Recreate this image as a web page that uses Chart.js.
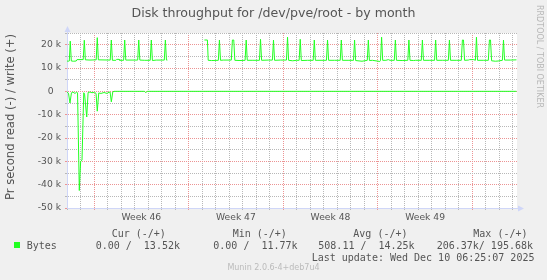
<!DOCTYPE html>
<html lang="en">
<head>
<meta charset="utf-8"/>
<title>Disk throughput for /dev/pve/root - by month</title>
<script src="https://cdn.jsdelivr.net/npm/chart.js"></script>
<style>
  html, body { margin: 0; padding: 0; background: #f0f0f0; }
  #wrap { position: relative; width: 547px; height: 280px; overflow: hidden; font-family: 'DejaVu Sans', sans-serif; color: #555; }
  #wrap canvas { position: absolute; left: 0; top: 0; }
  .t { position: absolute; white-space: pre; }
  .mono { font-family: 'DejaVu Sans Mono', monospace; font-size: 10px; line-height: 10px; }
</style>
</head>
<body>
<div id="wrap">
  <canvas id="chart" width="547" height="280"></canvas>
  <div class="t" style="left:0;width:547px;top:6.5px;text-align:center;font-size:12.6px;line-height:12.6px;">Disk throughput for /dev/pve/root - by month</div>
  <div class="t" style="left:-90px;top:110px;width:200px;text-align:center;font-size:11.6px;line-height:14px;transform:rotate(-90deg);">Pr second read (-) / write (+)</div>
  <div class="t" style="left:542.5px;top:5px;font-size:8px;line-height:8px;color:#b8b8b8;transform-origin:0 0;transform:rotate(90deg);">RRDTOOL / TOBI OETIKER</div>

  <div class="t mono" style="left:111.7px;top:228.8px;">Cur (-/+)</div>
  <div class="t mono" style="left:232.7px;top:228.8px;">Min (-/+)</div>
  <div class="t mono" style="left:353.3px;top:228.8px;">Avg (-/+)</div>
  <div class="t mono" style="left:473.3px;top:228.8px;">Max (-/+)</div>

  <div style="position:absolute;left:14px;top:242px;width:6px;height:6px;background:#22ff22;"></div>
  <div class="t mono" style="left:26.7px;top:241.1px;">Bytes</div>
  <div class="t mono" style="left:95.7px;top:241.1px;">0.00 /  13.52k</div>
  <div class="t mono" style="left:213.3px;top:241.1px;">0.00 /  11.77k</div>
  <div class="t mono" style="left:318.3px;top:241.1px;">508.11 /  14.25k</div>
  <div class="t mono" style="left:436.7px;top:241.1px;">206.37k/ 195.68k</div>

  <div class="t mono" style="left:311.7px;top:252.8px;">Last update: Wed Dec 10 06:25:07 2025</div>
  <div class="t" style="left:0;width:547px;top:264px;text-align:center;font-size:8px;line-height:8px;color:#bbbbbb;">Munin 2.0.6-4+deb7u4</div>
</div>

<script>
// time axis in days, day 0 = start of the week labelled "Week 46"
const xMin = -2.0;
const xMax = 31.3;
const weekStarts = [0, 7, 14, 21, 28];
const weekLabels = ['Week 46', 'Week 47', 'Week 48', 'Week 49'];

const yTickValues = [20000, 10000, 0, -10000, -20000, -30000, -40000, -50000];
const yTickLabels = ['20 k', '10 k', '0\u2002 ', '-10 k', '-20 k', '-30 k', '-40 k', '-50 k'];

// write (+), bytes per second
const writeDays = [
  -2.00, -1.90, -1.83, -1.76, -1.68, -1.50, -1.32, -1.26, -0.80, -0.72, -0.64, -0.30,
  0.16, 0.24, 0.32, 1.20, 1.28, 1.36, 1.62, 1.68, 1.85, 1.90, 2.19, 2.27, 2.35,
  3.23, 3.31, 3.39, 3.75, 4.16, 4.24, 4.32, 4.60, 5.20, 5.28, 5.36, 5.43,
  5.50, 8.10,
  8.17, 8.39, 8.45, 8.70, 9.20, 9.28, 9.36, 9.60, 10.16, 10.24, 10.34, 10.42, 10.80,
  11.18, 11.26, 11.34, 11.70, 12.24, 12.32, 12.40, 12.90, 13.20, 13.28, 13.36, 13.80,
  14.24, 14.32, 14.40, 14.70, 15.00, 15.18, 15.26, 15.34, 15.80, 16.22, 16.30, 16.38,
  16.80, 17.20, 17.28, 17.36, 17.80, 18.22, 18.30, 18.38, 18.80, 19.20, 19.28, 19.36,
  19.83, 20.22, 20.30, 20.38, 20.60, 21.15, 21.20, 21.28, 21.36, 21.60, 21.78, 21.90,
  22.22, 22.30, 22.38, 22.80, 23.22, 23.30, 23.38, 23.65, 23.80, 24.22, 24.30, 24.38,
  24.80, 25.20, 25.28, 25.36, 25.80, 26.22, 26.30, 26.38, 26.80, 27.18, 27.26, 27.34,
  27.42, 27.70, 27.80, 28.10, 28.22, 28.30, 28.38, 28.80, 29.18, 29.26, 29.34, 29.42,
  29.70, 29.90, 30.22, 30.30, 30.38, 30.80, 31.26
];
const writeBytes = [
  13000, 12900, 13000, 21500, 13000, 12900, 13000, 13600, 13600, 21900, 13500, 13400,
  13500, 23000, 13500, 13400, 22000, 13300, 13300, 13700, 13700, 13300, 13300, 22000, 13400,
  13400, 22000, 13400, 13300, 13300, 22000, 13200, 13400, 13400, 22000, 13400, 13400,
  null, null,
  22000, 22000, 13300, 13200, 13300, 22000, 13300, 13400, 13400, 22000, 22000, 13300, 13200,
  13300, 22000, 13300, 13300, 13300, 22300, 13300, 13400, 13400, 22000, 13300, 13400,
  13400, 23200, 13300, 13100, 13300, 13300, 22300, 13200, 13300, 13300, 22000, 13300,
  13300, 13300, 22000, 13300, 13300, 13300, 22000, 13300, 13300, 13300, 22000, 13200,
  12900, 13300, 22000, 13200, 13300, 12800, 13200, 23200, 13300, 13300, 13600, 13300,
  13300, 22000, 13300, 13200, 13300, 22000, 13300, 13200, 13300, 13300, 22000, 13300,
  13300, 13300, 22000, 13300, 13300, 13300, 22000, 13300, 13300, 13300, 22000, 22000,
  13300, 13400, 13600, 13600, 13300, 23200, 13300, 13300, 13300, 22000, 22000, 13100,
  12900, 13000, 13300, 22000, 13400, 13400, 13500
];

// read (-), bytes per second, drawn negative
const readDays = [
  -2.00, -1.89, -1.78, -1.67, -1.56, -1.41, -1.30, -1.22, -1.09, -0.99, -0.89, -0.76,
  -0.70, -0.54, -0.44, -0.30, -0.15, 0.04, 0.15, 0.24, 0.35, 0.52, 0.74, 0.96, 1.11,
  1.19, 1.28, 1.39, 1.48, 3.74, 3.83, 3.93, 31.26
];
const readBytes = [
  -300, -800, -5000, -600, -300, -900, -400, -600, -42500, -30000, -29500, -600,
  -1200, -11000, -500, -300, -600, -400, -900, -8500, -700, -900, -500, -900, -400,
  -300, -4500, -200, 0, 0, -600, 0, 0
];

const lineColor = '#22ff22';
const axisColor = '#cfd6f8';
const minorGrid = '#b8b8b8';
const majorGrid = '#ec9494';

function toPoints(days, vals) {
  return days.map((d, i) => ({ x: d, y: vals[i] }));
}

function xGridColor(v) {
  if (!Number.isInteger(v)) return 'rgba(0,0,0,0)';
  return (((v % 7) + 7) % 7 === 0) ? majorGrid : minorGrid;
}

function yGridColor(v) {
  return v % 10000 === 0 ? majorGrid : minorGrid;
}

const chartAreaBg = {
  id: 'chartAreaBg',
  beforeDraw(chart) {
    const a = chart.chartArea, ctx = chart.ctx;
    ctx.save();
    ctx.fillStyle = '#ffffff';
    ctx.fillRect(a.left, a.top, a.right - a.left, a.bottom - a.top);
    ctx.restore();
  }
};

const axisArrows = {
  id: 'axisArrows',
  afterDraw(chart) {
    const a = chart.chartArea, ctx = chart.ctx;
    const x = Math.round(a.left) + 0.5, y = Math.round(a.bottom) + 0.5;
    ctx.save();
    ctx.strokeStyle = axisColor;
    ctx.fillStyle = axisColor;
    ctx.lineWidth = 1;
    ctx.beginPath();
    ctx.moveTo(x, a.top); ctx.lineTo(x, a.top - 3);
    ctx.moveTo(a.right, y); ctx.lineTo(a.right + 3, y);
    ctx.stroke();
    ctx.beginPath();
    ctx.moveTo(x - 3, a.top - 1); ctx.lineTo(x, a.top - 7); ctx.lineTo(x + 3, a.top - 1);
    ctx.closePath(); ctx.fill();
    ctx.beginPath();
    ctx.moveTo(a.right + 1, y - 3); ctx.lineTo(a.right + 7, y); ctx.lineTo(a.right + 1, y + 3);
    ctx.closePath(); ctx.fill();
    ctx.restore();
  }
};

new Chart(document.getElementById('chart'), {
  type: 'line',
  data: {
    datasets: [
      { label: 'write', data: toPoints(writeDays, writeBytes), borderColor: lineColor, borderWidth: 1, pointRadius: 0, spanGaps: false, tension: 0 },
      { label: 'read', data: toPoints(readDays, readBytes), borderColor: lineColor, borderWidth: 1, pointRadius: 0, spanGaps: false, tension: 0 }
    ]
  },
  options: {
    responsive: false,
    animation: false,
    devicePixelRatio: 1,
    layout: { padding: { top: 33, right: 30, bottom: 0, left: 0 } },
    plugins: { legend: { display: false }, tooltip: { enabled: false } },
    scales: {
      x: {
        type: 'linear',
        min: xMin,
        max: xMax,
        afterFit(scale) { scale.height = 72; },
        afterBuildTicks(scale) {
          const ticks = [];
          for (let d = Math.ceil(xMin); d <= xMax; d++) ticks.push({ value: d });
          weekStarts.forEach(w => { if (w + 3.5 <= xMax) ticks.push({ value: w + 3.5 }); });
          ticks.sort((p, q) => p.value - q.value);
          scale.ticks = ticks;
        },
        grid: {
          color: ctx => xGridColor(ctx.tick.value),
          tickColor: ctx => xGridColor(ctx.tick.value),
          tickLength: 2,
          lineWidth: 1
        },
        border: { display: true, color: axisColor, width: 1, dash: [1, 1] },
        ticks: {
          autoSkip: false,
          source: 'data',
          maxRotation: 0,
          padding: 2,
          color: '#555',
          font: { family: 'DejaVu Sans', size: 9.2 },
          callback: v => {
            const i = weekStarts.indexOf(v - 3.5);
            return i >= 0 && i < weekLabels.length ? weekLabels[i] : '';
          }
        }
      },
      y: {
        min: -50000,
        max: 25000,
        afterFit(scale) { scale.width = 67; },
        grid: {
          color: ctx => yGridColor(ctx.tick.value),
          tickColor: ctx => yGridColor(ctx.tick.value),
          tickLength: 2,
          lineWidth: 1
        },
        border: { display: true, color: axisColor, width: 1, dash: [1, 1] },
        ticks: {
          stepSize: 5000,
          maxTicksLimit: 20,
          autoSkip: false,
          padding: 4,
          color: '#555',
          font: { family: 'DejaVu Sans', size: 9.2 },
          callback: v => {
            const i = yTickValues.indexOf(v);
            return i >= 0 ? yTickLabels[i] : '';
          }
        }
      }
    }
  },
  plugins: [chartAreaBg, axisArrows]
});
</script>
</body>
</html>
